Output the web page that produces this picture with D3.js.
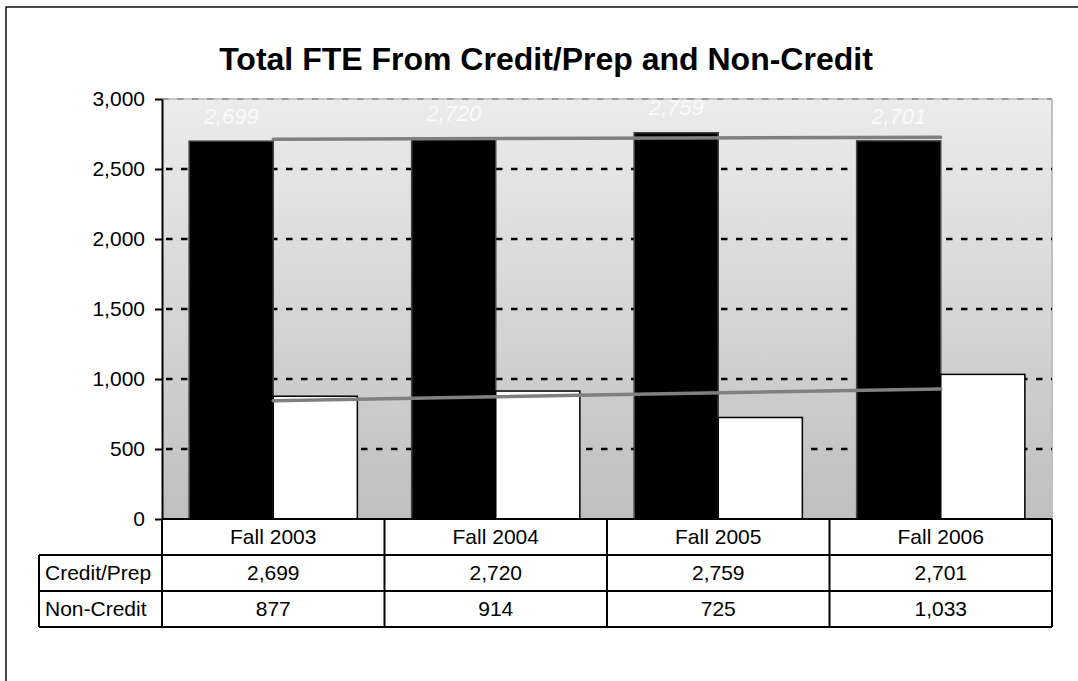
<!DOCTYPE html>
<html lang="en">
<head>
<meta charset="utf-8">
<title>Total FTE From Credit/Prep and Non-Credit</title>
<script src="https://d3js.org/d3.v7.min.js"></script>
<style>
  body { margin: 0; background: #fff; }
  text { font-family: "Liberation Sans", Arial, sans-serif; }
</style>
</head>
<body>
<script>
var categories = ["Fall 2003", "Fall 2004", "Fall 2005", "Fall 2006"];
var seriesNames = ["Credit/Prep", "Non-Credit"];
var creditPrep = [2699, 2720, 2759, 2701];
var nonCredit = [877, 914, 725, 1033];
var yTicks = [0, 500, 1000, 1500, 2000, 2500, 3000];

var width = 1078, height = 681;
var plot = { left: 162, right: 1052, top: 99, bottom: 519 };
var rowH = 36;
var fmt = d3.format(",");

var svg = d3.select("body").append("svg")
    .attr("width", width)
    .attr("height", height);

// outer chart frame (runs off the picture on the right and bottom)
svg.append("rect")
    .attr("x", 6).attr("y", 7)
    .attr("width", 1100).attr("height", 700)
    .attr("fill", "none")
    .attr("stroke", "#111")
    .attr("stroke-width", 1.5);

var x = d3.scaleBand().domain(categories).range([plot.left, plot.right]);
var bw = x.bandwidth();
var x1 = d3.scaleBand().domain(seriesNames).range([bw * 0.122, bw * 0.878]);
var y = d3.scaleLinear().domain([0, 3000]).range([plot.bottom, plot.top]);

// plot background gradient
var grad = svg.append("defs").append("linearGradient")
    .attr("id", "bg")
    .attr("x1", 0).attr("y1", 0).attr("x2", 0).attr("y2", 1);
grad.append("stop").attr("offset", "0%").attr("stop-color", "#ececec");
grad.append("stop").attr("offset", "100%").attr("stop-color", "#bfbfbf");

svg.append("rect")
    .attr("x", plot.left).attr("y", plot.top)
    .attr("width", plot.right - plot.left)
    .attr("height", plot.bottom - plot.top)
    .attr("fill", "url(#bg)");

// right border of plot area
svg.append("line")
    .attr("x1", plot.right).attr("x2", plot.right)
    .attr("y1", plot.top).attr("y2", plot.bottom)
    .attr("stroke", "#c0c0c0").attr("stroke-width", 2);

// gridlines
svg.append("g").selectAll("line")
    .data(yTicks.filter(function(d) { return d > 0 && d < 3000; }))
    .enter().append("line")
    .attr("x1", plot.left).attr("x2", plot.right)
    .attr("y1", function(d) { return y(d); })
    .attr("y2", function(d) { return y(d); })
    .attr("stroke", "#000")
    .attr("stroke-width", 2.5)
    .attr("stroke-dasharray", "6.5,8.5")
    .attr("stroke-dashoffset", -4);

// top line at 3000 is gray
svg.append("line")
    .attr("x1", plot.left).attr("x2", plot.right)
    .attr("y1", y(3000)).attr("y2", y(3000))
    .attr("stroke", "#c8c8c8").attr("stroke-width", 2);
svg.append("line")
    .attr("x1", plot.left).attr("x2", plot.right)
    .attr("y1", y(3000)).attr("y2", y(3000))
    .attr("stroke", "#9a9a9a").attr("stroke-width", 2)
    .attr("stroke-dasharray", "6.5,8.5");

// bars
var rows = categories.map(function(c, i) {
    return { cat: c, values: [
        { key: "Credit/Prep", v: creditPrep[i] },
        { key: "Non-Credit", v: nonCredit[i] }
    ] };
});

var group = svg.append("g").selectAll("g")
    .data(rows)
    .enter().append("g")
    .attr("transform", function(d) { return "translate(" + x(d.cat) + ",0)"; });

group.selectAll("rect")
    .data(function(d) { return d.values; })
    .enter().append("rect")
    .attr("x", function(d) { return x1(d.key); })
    .attr("y", function(d) { return y(d.v); })
    .attr("width", x1.bandwidth())
    .attr("height", function(d) { return y(0) - y(d.v); })
    .attr("fill", function(d) { return d.key === "Credit/Prep" ? "#000" : "#fff"; })
    .attr("stroke", function(d) { return d.key === "Credit/Prep" ? "#444" : "#000"; })
    .attr("stroke-width", 1.5);

// data labels on credit/prep bars
group.append("text")
    .attr("x", x1("Credit/Prep") + x1.bandwidth() / 2)
    .attr("y", function(d) { return y(d.values[0].v) - 25; })
    .attr("dy", "0.35em")
    .attr("text-anchor", "middle")
    .attr("font-size", 22)
    .attr("font-style", "italic")
    .attr("fill", "#fafafa")
    .text(function(d) { return fmt(d.values[0].v); });

// linear trend lines
function trend(vals) {
    var n = vals.length;
    var mx = (n - 1) / 2, my = d3.mean(vals);
    var sxy = d3.sum(vals, function(v, i) { return (i - mx) * (v - my); });
    var sxx = d3.sum(vals, function(v, i) { return (i - mx) * (i - mx); });
    var b = sxy / sxx;
    return [my - b * mx, my + b * (n - 1 - mx)];
}

[creditPrep, nonCredit].forEach(function(vals) {
    var t = trend(vals);
    svg.append("line")
        .attr("x1", x(categories[0]) + bw / 2)
        .attr("x2", x(categories[categories.length - 1]) + bw / 2)
        .attr("y1", y(t[0]))
        .attr("y2", y(t[1]))
        .attr("stroke", "#808080")
        .attr("stroke-width", 3.5)
        .attr("stroke-linecap", "round");
});

// y axis
var axis = svg.append("g")
    .attr("transform", "translate(" + plot.left + ",0)")
    .call(d3.axisLeft(y).tickValues(yTicks).tickSize(7).tickSizeOuter(0)
        .tickPadding(10).tickFormat(fmt));
axis.select(".domain").attr("stroke", "#000").attr("stroke-width", 2);
axis.selectAll(".tick line").attr("stroke", "#000").attr("stroke-width", 2);
axis.selectAll(".tick text")
    .attr("font-size", 21)
    .attr("fill", "#000")
    .style("font-family", "'Liberation Sans', Arial, sans-serif");

// title
svg.append("text")
    .attr("x", 546)
    .attr("y", 70)
    .attr("text-anchor", "middle")
    .attr("font-size", 32)
    .attr("font-weight", "bold")
    .attr("fill", "#000")
    .text("Total FTE From Credit/Prep and Non-Credit");

// data table
var table = svg.append("g");
var tableTop = plot.bottom;
var labelLeft = 39;
var seriesVals = [creditPrep, nonCredit];

// header row
table.selectAll(".hdr")
    .data(categories)
    .enter().append("text")
    .attr("x", function(d) { return x(d) + bw / 2; })
    .attr("y", tableTop + rowH / 2)
    .attr("dy", "0.35em")
    .attr("text-anchor", "middle")
    .attr("font-size", 21)
    .text(function(d) { return d; });

seriesNames.forEach(function(name, r) {
    var ry = tableTop + rowH * (r + 1);
    table.append("text")
        .attr("x", labelLeft + 6)
        .attr("y", ry + rowH / 2)
        .attr("dy", "0.35em")
        .attr("font-size", 21)
        .text(name);
    table.selectAll(".r" + r)
        .data(categories)
        .enter().append("text")
        .attr("x", function(d) { return x(d) + bw / 2; })
        .attr("y", ry + rowH / 2)
        .attr("dy", "0.35em")
        .attr("text-anchor", "middle")
        .attr("font-size", 21)
        .text(function(d, i) { return fmt(seriesVals[r][i]); });
});

// table grid lines
var tb = tableTop + rowH * 3;
var hLines = [
    [plot.left, tableTop + rowH * 0],
    [labelLeft, tableTop + rowH * 1],
    [labelLeft, tableTop + rowH * 2],
    [labelLeft, tb]
];
hLines.forEach(function(h) {
    table.append("line")
        .attr("x1", h[0]).attr("x2", plot.right)
        .attr("y1", h[1]).attr("y2", h[1])
        .attr("stroke", "#000").attr("stroke-width", 2);
});
table.append("line")
    .attr("x1", labelLeft).attr("x2", labelLeft)
    .attr("y1", tableTop + rowH).attr("y2", tb)
    .attr("stroke", "#000").attr("stroke-width", 2);
categories.concat([null]).forEach(function(c) {
    var cx = c ? x(c) : plot.right;
    table.append("line")
        .attr("x1", cx).attr("x2", cx)
        .attr("y1", tableTop).attr("y2", tb)
        .attr("stroke", "#000").attr("stroke-width", 2);
});
</script>
</body>
</html>
